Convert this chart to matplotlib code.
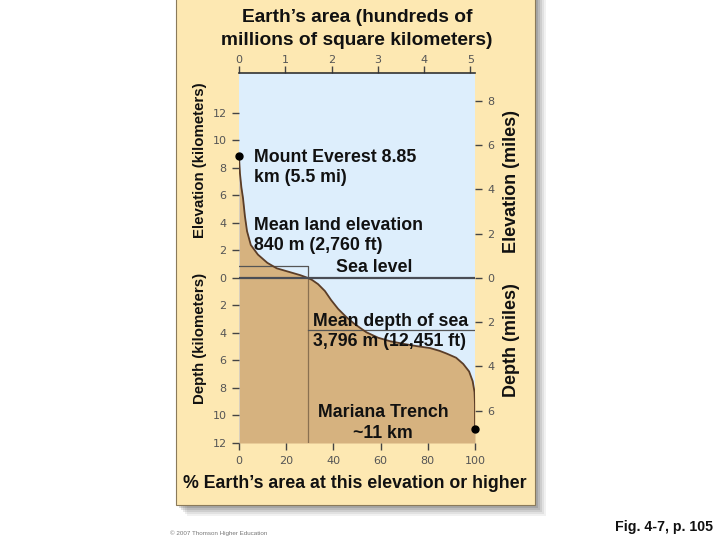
import numpy as np
import matplotlib
matplotlib.use('Agg')
from matplotlib import pyplot as plt
from matplotlib.patches import Rectangle

# hypsometric curve: % of Earth's area at or above each elevation (km)
land_pct = [0, 0.4, 1.0, 1.7, 2.5, 3.4, 5, 8, 12, 16, 21, 26, 29.2]
land_elev = [8.85, 7.6, 6.6, 5.8, 4.5, 3.4, 2.4, 1.7, 1.1, 0.7, 0.45, 0.2, 0]
sea_pct = [31.0, 33.5, 36.4, 39, 42, 45.5, 49, 54, 59, 64, 70, 75, 81, 85, 88, 92, 95, 97.5, 99, 99.8, 100, 100]
sea_elev = [-0.15, -0.45, -0.95, -1.6, -2.25, -2.85, -3.35, -3.95, -4.35, -4.6, -4.8, -4.95, -5.1, -5.3,
            -5.5, -5.8, -6.25, -6.8, -7.5, -8.3, -9.2, -11.0]

shelf_pct = 29.2
mean_land_km = 0.84
mean_depth_km = -3.796
everest_km = 8.85
trench_km = -11.0

km_ticks = [12, 10, 8, 6, 4, 2, 0, -2, -4, -6, -8, -10, -12]
mile_ticks = [8, 6, 4, 2, 0, -2, -4, -6]
pct_ticks = [0, 20, 40, 60, 80, 100]
area_ticks = [0, 1, 2, 3, 4, 5]
EARTH_AREA = 5.1  # hundreds of millions km2
KM_PER_MILE = 1.609

CREAM = '#fde8b2'
TAN = '#d6b27f'
BLUE = '#ddeefc'
TICK_GREY = '#555555'
BOLD = dict(family='Liberation Sans', weight='bold', color='#111111')


def fx(px):
    return px / 720.0


def fy(py):
    return 1 - py / 540.0


fig = plt.figure(figsize=(7.2, 5.4), dpi=100)
fig.patch.set_facecolor('white')

# drop shadow and cream panel
for i, a in enumerate([0.08, 0.10, 0.13, 0.16, 0.20, 0.24]):
    off = 11 - 2 * i
    fig.patches.append(Rectangle((fx(176 + off), fy(505 + off)), fx(359), 505 / 540.0 + 0.02,
                                 transform=fig.transFigure, facecolor='#555555', alpha=a,
                                 edgecolor='none', zorder=-3))
fig.patches.append(Rectangle((fx(176), fy(505)), fx(359), 505 / 540.0 + 0.02,
                             transform=fig.transFigure, facecolor=CREAM,
                             edgecolor='#8a7a5a', linewidth=0.8, zorder=-2))

ax = fig.add_axes([fx(239), fy(443), fx(475 - 239), (443 - 73) / 540.0])
ax.set_zorder(2)
ax.set_facecolor(BLUE)
ax.set_xlim(0, 100)
ax.set_ylim(-12, 14.9)

pct = np.array(land_pct + sea_pct)
elev = np.array(land_elev + sea_elev)
ax.fill_between(pct, elev, -12, color=TAN, linewidth=0, zorder=1)
ax.plot(pct, elev, color='#5a3d28', linewidth=1.3, zorder=3)

# mean land elevation box and mean depth lines
ax.plot([0, shelf_pct, shelf_pct], [mean_land_km, mean_land_km, 0], color='#555555', linewidth=0.9, zorder=2)
ax.plot([shelf_pct, shelf_pct], [0, -12], color='#8a7050', linewidth=0.9, zorder=2)
ax.plot([shelf_pct, 100], [mean_depth_km, mean_depth_km], color='#555555', linewidth=0.9, zorder=2)
ax.axhline(0, color='#4a4d55', linewidth=1.6, zorder=4)

ax.plot([0], [everest_km], 'o', color='black', markersize=5, clip_on=False, zorder=5)
ax.plot([100], [trench_km], 'o', color='black', markersize=5, clip_on=False, zorder=5)

for s in ['left', 'right', 'bottom']:
    ax.spines[s].set_visible(False)
ax.spines['top'].set_color('#333333')
ax.spines['top'].set_linewidth(1.2)

ax.set_yticks(km_ticks)
ax.set_yticklabels([str(abs(t)) for t in km_ticks])
ax.set_xticks(pct_ticks)
ax.tick_params(axis='both', length=5, width=1, color='#444444', labelcolor=TICK_GREY,
               labelsize=8, pad=4)

top = ax.secondary_xaxis('top', functions=(lambda p: p * EARTH_AREA / 100.0,
                                           lambda a: a * 100.0 / EARTH_AREA))
top.set_xticks(area_ticks)
top.spines['top'].set_visible(False)
top.tick_params(length=5, width=1, color='#444444', labelcolor=TICK_GREY, labelsize=8, pad=1)

right = ax.secondary_yaxis('right', functions=(lambda k: k / KM_PER_MILE,
                                               lambda m: m * KM_PER_MILE))
right.set_yticks(mile_ticks)
right.set_yticklabels([str(abs(t)) for t in mile_ticks])
right.spines['right'].set_visible(False)
right.tick_params(length=5, width=1, color='#444444', labelcolor=TICK_GREY, labelsize=8, pad=4)

# annotations
fs = 12.8
ls = 1.27
ax.text(6.4, 8.04, 'Mount Everest 8.85\nkm (5.5 mi)', ha='left', va='center', fontsize=fs,
        linespacing=ls, zorder=6, **BOLD)
ax.text(6.4, 3.09, 'Mean land elevation\n840 m (2,760 ft)', ha='left', va='center', fontsize=fs,
        linespacing=ls, zorder=6, **BOLD)
ax.text(57.2, 0.73, 'Sea level', ha='center', va='center', fontsize=fs, zorder=6, **BOLD)
ax.text(31.4, -3.89, 'Mean depth of sea\n3,796 m (12,451 ft)', ha='left', va='center', fontsize=fs,
        linespacing=ls, zorder=6, **BOLD)
ax.text(61.0, -10.55, 'Mariana Trench\n~11 km', ha='center', va='center', fontsize=fs,
        linespacing=ls, zorder=6, **BOLD)

fig.text(fx(357), fy(29), 'Earth\u2019s area (hundreds of\nmillions of square kilometers)',
         ha='center', va='center', fontsize=13.8, linespacing=1.42, **BOLD)
fig.text(fx(355), fy(484), '% Earth\u2019s area at this elevation or higher',
         ha='center', va='center', fontsize=12.8, **BOLD)
fig.text(fx(200), fy(160), 'Elevation (kilometers)', rotation=90, ha='center', va='center',
         fontsize=10.8, **BOLD)
fig.text(fx(200), fy(338), 'Depth (kilometers)', rotation=90, ha='center', va='center',
         fontsize=10.8, **BOLD)
fig.text(fx(512), fy(181), 'Elevation (miles)', rotation=90, ha='center', va='center',
         fontsize=13, **BOLD)
fig.text(fx(512), fy(340), 'Depth (miles)', rotation=90, ha='center', va='center',
         fontsize=13, **BOLD)

fig.text(fx(713), fy(527), 'Fig. 4-7, p. 105', ha='right', va='center', fontsize=10.2, **BOLD)
fig.text(fx(170), fy(533), '\u00a9 2007 Thomson Higher Education', ha='left', va='center',
         fontsize=4.5, color='#777777', family='Liberation Sans')

fig.savefig('out.png', dpi=100, facecolor='white')
